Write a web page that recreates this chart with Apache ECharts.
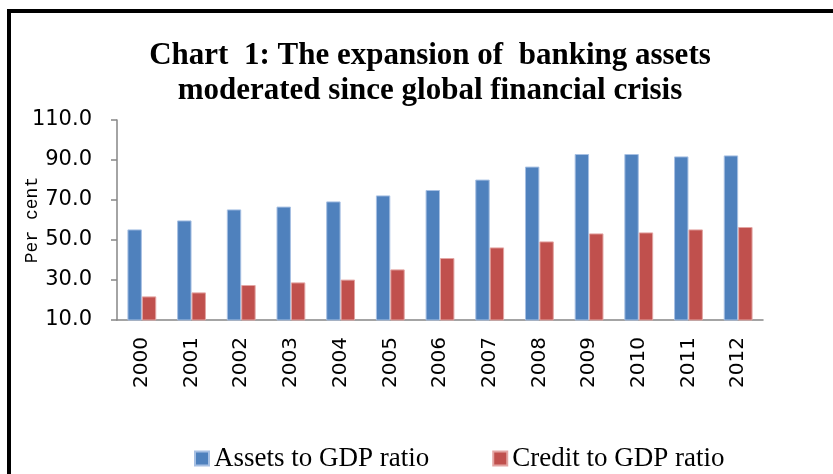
<!DOCTYPE html>
<html>
<head>
<meta charset="utf-8">
<script src="https://cdn.jsdelivr.net/npm/echarts@6/dist/echarts.min.js"></script>
<style>
  html, body { margin: 0; padding: 0; background: #fff; }
  #chart { width: 833px; height: 474px; }
</style>
</head>
<body>
<div id="chart"></div>
<script>
const years = ['2000', '2001', '2002', '2003', '2004', '2005', '2006', '2007', '2008', '2009', '2010', '2011', '2012'];
const assetsToGdp = [55.3, 59.8, 65.3, 66.7, 69.3, 72.3, 75.0, 80.2, 86.7, 93.0, 93.0, 91.8, 92.3];
const creditToGdp = [21.8, 23.8, 27.5, 28.8, 30.2, 35.3, 41.0, 46.3, 49.3, 53.3, 53.8, 55.3, 56.5];

const axisGray = '#868686';

const chart = echarts.init(document.getElementById('chart'));
chart.setOption({
  animation: false,
  title: {
    text: 'Chart  1: The expansion of  banking assets\nmoderated since global financial crisis',
    left: 425,
    textAlign: 'center',
    top: 33,
    textStyle: {
      fontFamily: 'Liberation Serif',
      fontWeight: 'bold',
      fontSize: 31,
      lineHeight: 35,
      color: '#000'
    }
  },
  // frame: only top and left edges are visible in the cropped picture
  graphic: [
    { type: 'line', shape: { x1: 9, y1: 11, x2: 833, y2: 11 }, style: { stroke: '#000', lineWidth: 4 } },
    { type: 'line', shape: { x1: 9, y1: 9, x2: 9, y2: 474 }, style: { stroke: '#000', lineWidth: 4 } }
  ],
  grid: { left: 117, right: 70, top: 120, bottom: 154 },
  legend: {
    left: 194,
    top: 445,
    padding: 0,
    itemWidth: 14,
    itemHeight: 14,
    itemGap: 63,
    icon: 'rect',
    textStyle: { fontFamily: 'Liberation Serif', fontSize: 27, color: '#000' },
    data: ['Assets to GDP ratio', 'Credit to GDP ratio']
  },
  xAxis: {
    type: 'category',
    data: years,
    axisLine: { lineStyle: { color: axisGray, width: 1.5 } },
    axisTick: { length: 6, lineStyle: { color: axisGray, width: 1.5 } },
    axisLabel: {
      rotate: 90,
      margin: 17,
      fontFamily: 'DejaVu Sans',
      fontSize: 20,
      color: '#000'
    }
  },
  yAxis: {
    type: 'value',
    min: 10,
    max: 110,
    interval: 20,
    name: 'Per cent',
    nameLocation: 'middle',
    nameRotate: 90,
    nameGap: 76,
    nameMoveOverlap: false,
    nameTextStyle: { fontFamily: 'Liberation Mono', fontSize: 18, color: '#000' },
    splitLine: { show: false },
    axisLine: { show: true, lineStyle: { color: axisGray, width: 1.5 } },
    axisTick: { show: true, length: 6, lineStyle: { color: axisGray, width: 1.5 } },
    axisLabel: {
      margin: 25,
      fontFamily: 'DejaVu Sans',
      fontSize: 21,
      color: '#000',
      formatter: v => v.toFixed(1)
    }
  },
  series: [
    {
      name: 'Assets to GDP ratio',
      type: 'bar',
      data: assetsToGdp,
      barGap: '0%',
      barCategoryGap: '42%',
      itemStyle: { color: '#4F81BD', borderColor: '#a7c0e3', borderWidth: 1 }
    },
    {
      name: 'Credit to GDP ratio',
      type: 'bar',
      data: creditToGdp,
      itemStyle: { color: '#C0504D', borderColor: '#e3a5a3', borderWidth: 1 }
    }
  ]
});
window.addEventListener('resize', function () {
  chart && chart.resize();
});
</script>
</body>
</html>
